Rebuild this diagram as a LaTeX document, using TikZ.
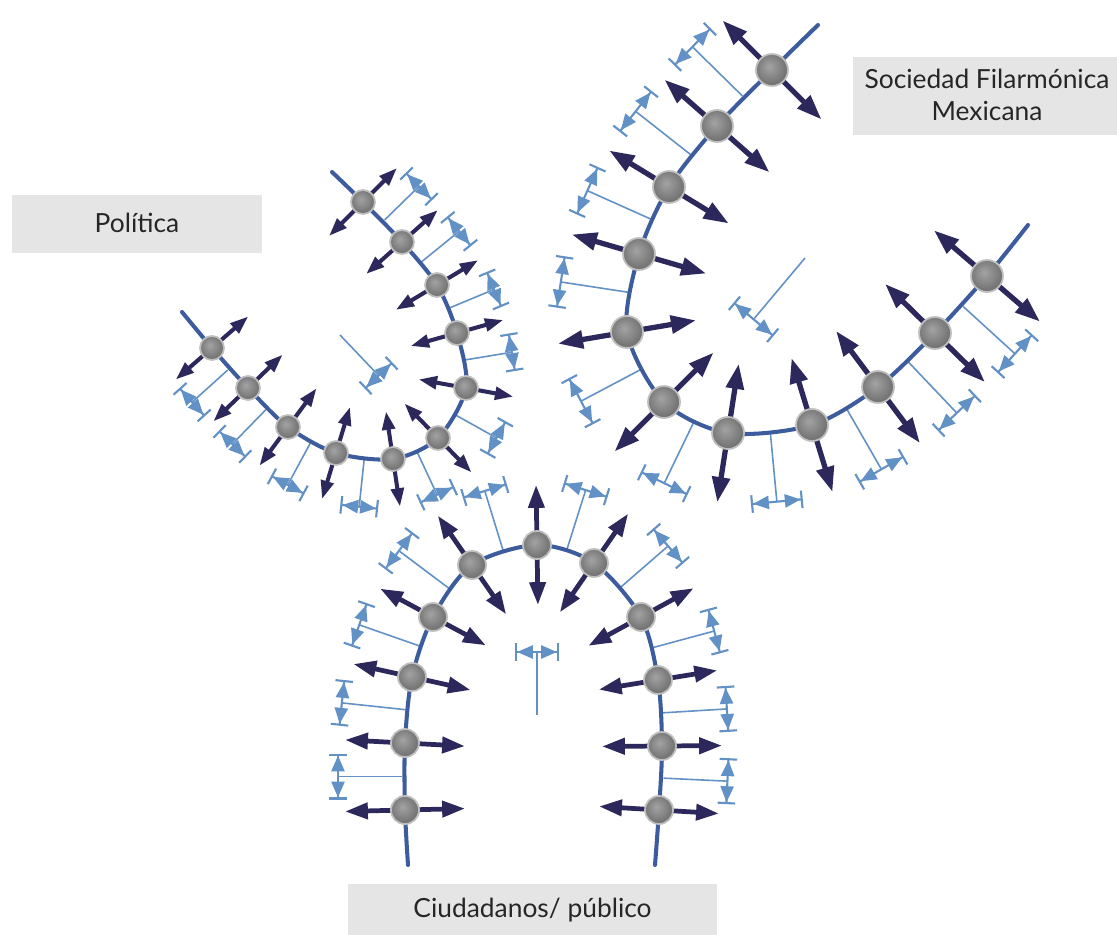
\documentclass[tikz,border=0pt]{standalone}
\usepackage{fontspec}
\setmainfont{Lato}
\usetikzlibrary{arrows.meta,shadows}

\definecolor{azulcapa}{RGB}{60,92,158}
\definecolor{flecha}{RGB}{45,40,92}
\definecolor{cota}{RGB}{98,145,198}
\definecolor{caja}{RGB}{229,229,229}
\pgfdeclareradialshading{esfera}{\pgfpoint{-5bp}{6bp}}{color(0bp)=(black!36); color(16bp)=(black!48); color(32bp)=(black!60); color(50bp)=(black!72)}

\begin{document}
\begin{tikzpicture}[x=0.2mm,y=-0.2mm,
  capa/.style={azulcapa, line width=2.3pt, line cap=round},
  empuje/.style={flecha, line width=2.7pt, {Triangle[length=13pt,width=9pt,scale=#1]}-{Triangle[length=13pt,width=9pt,scale=#1]}},
  empuje/.default=1,
  linea/.style={cota, line width=0.9pt},
  medida/.style={cota, line width=1.2pt, {Bar[width=10pt]Triangle[length=9pt,width=7.5pt]}-{Triangle[length=9pt,width=7.5pt]Bar[width=10pt]}},
  bola/.style={shading=esfera, draw=black!25, line width=1pt},
  etiqueta/.style={fill=caja, text=black!85, font=\fontsize{15}{18.5}\selectfont, align=center,
    drop shadow={shadow xshift=0pt, shadow yshift=-1.5pt, opacity=0.2}}]
\useasboundingbox (0,0) rectangle (1117,935);

% etiquetas
\node[etiqueta, minimum width=141.7pt, minimum height=31.2pt] (politica) at (137,222.5) {Política};
\node[etiqueta, minimum width=153pt, minimum height=43pt] (sociedad) at (987,95) {Sociedad Filarmónica\\Mexicana};
\node[etiqueta, minimum width=210.3pt, minimum height=29.5pt] (ciudadanos) at (532.5,910) {Ciudadanos/ público};

% Ciudadanos: cotas
\foreach \x/\y/\a in {405/776.5/180, 408.5/710/-173.9, 422.5/647/-160.7, 452.5/591/-143.1, 504.5/555/-107.1,
  565.5/554/-72.5, 617.5/590/-41, 649.5/648.5/-15.1, 660/713/-3.5, 660.5/778/2.7} {
  \draw[linea] (\x,\y) ++(\a:3) -- ++(\a:64) coordinate (c);
  \draw[medida] (c) ++(\a+90:23) -- ++(\a-90:46);
}
\draw[linea] (537,715) -- ++(-90:63) coordinate (c);
\draw[medida] (c) ++(0:22) -- ++(180:44);

% Politica: cotas
\foreach \x/\y/\a in {382.5/222/-44.3, 419.5/263.5/-39.1, 447/309/-22.6, 461.5/360.5/-9.3, 452/413/29.2,
  415.5/448.5/65, 364.5/456/96, 312/440/118.4, 268/407.5/134.3, 230/368/138} {
  \draw[linea] (\x,\y) ++(\a:3) -- ++(\a:48) coordinate (c);
  \draw[medida] (c) ++(\a+90:19) -- ++(\a-90:38);
}
\draw[linea] (340,335) -- ++(46.4:56) coordinate (c);
\draw[medida] (c) ++(136.4:19) -- ++(-43.6:38);

% Sociedad: cotas
\foreach \x/\y/\a in {744.5/98/224.5, 693/156.5/218.2, 654/220.5/204.1, 633/293/188.7, 645.5/367/152.1,
  696/417.5/115.8, 770/429/84.6, 845/406/60.1, 906.5/360/46.5, 961/304.5/42.4} {
  \draw[linea] (\x,\y) ++(\a:3) -- ++(\a:70) coordinate (c);
  \draw[medida] (c) ++(\a+90:26) -- ++(\a-90:52);
}
\draw[linea] (805,258) -- ++(130:80) coordinate (c);
\draw[medida] (c) ++(220:26) -- ++(40:52);

% membranas
\draw[capa] plot[smooth] coordinates {(408,865) (405,810) (405,743) (412,677) (433,617) (472,565) (537,545)
  (594,563) (641,617) (658,680) (662,746) (659,810) (655,865)};
\draw[capa] plot[smooth] coordinates {(332,172) (363,202) (402,242) (437,285) (457,333) (466,388) (438,438)
  (393,459) (336,453) (288,427) (248,388) (212,348) (182,312)};
\draw[capa] plot[smooth] coordinates {(818,25) (772,70) (717,126) (669,187) (639,254) (627,332) (664,402)
  (728,433) (812,425) (878,387) (935,333) (987,276) (1028,225)};

% Ciudadanos: bolas
\foreach \x/\y/\a in {405/810/178.6, 405/743/-177, 412/677/-167.5, 433/617/-151.8, 472/565/-124.7, 537/545/-90.9,
  594/563/-55.3, 641/617/-28.7, 658/680/-9.2, 662/746/-0.4, 659/810/3.4} {
  \draw[empuje] (\x,\y) ++(\a:60) -- ++(\a+180:120);
  \shadedraw[bola] (\x,\y) circle (14);
}

% Politica: bolas
\foreach \x/\y/\a in {363/202/-45, 402/242/-41.7, 437/285/-31.1, 457/333/-15.7, 466/388/10.3, 438/438/45.8,
  393/459/81.6, 336/453/106.9, 288/427/126.4, 248/388/136.1, 212/348/139} {
  \draw[empuje=0.8, line width=2.3pt] (\x,\y) ++(\a:48) -- ++(\a+180:96);
  \shadedraw[bola] (\x,\y) circle (12);
}

% Sociedad: bolas
\foreach \x/\y/\a in {772/70/225, 717/126/221.4, 669/187/211.4, 639/254/196.2, 627/332/170.4, 664/402/135,
  728/433/98.8, 812/425/73, 878/387/53.2, 935/333/44.5, 987/276/40.7} {
  \draw[empuje=1.1, line width=3pt] (\x,\y) ++(\a:70) -- ++(\a+180:140);
  \shadedraw[bola] (\x,\y) circle (16);
}
\end{tikzpicture}
\end{document}
